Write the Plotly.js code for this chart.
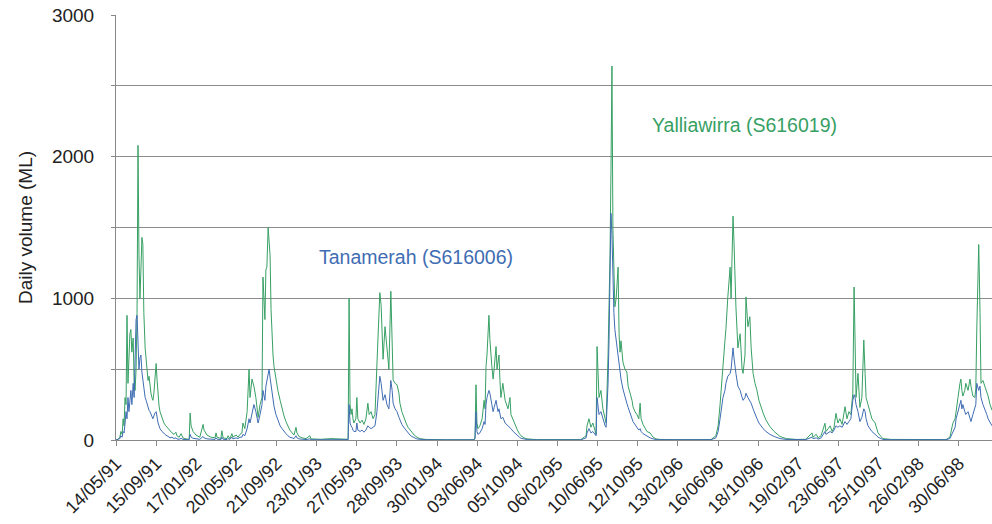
<!DOCTYPE html>
<html><head><meta charset="utf-8">
<script src="https://cdn.plot.ly/plotly-3.0.1.min.js"></script>
<style>html,body{margin:0;padding:0;background:#fff}#chart{width:992px;height:524px}</style>
</head><body><div id="chart"></div>
<script>
// Day offsets counted from the first tick date (14/05/1991)
const startDate = '1991-05-14';
const endDate = '1998-10-10';

const days = [
  0,6,12,15,19,22,25,28,31,34,37,40,43,46,49,53,56,59,62,65,68,71,74,77,80,83,86,90,93,96,99,102,105,108,111,114,117,120,124,127,130,133,136,142,148,154,161,167,173,179,185,188,195,201,207,216,226,229,232,238,247,259,269,272,281,293,306,309,312,324,327,331,343,346,352,358,361,371,377,383,
  389,392,398,405,411,414,420,426,432,439,445,451,454,457,460,463,466,470,473,476,479,482,485,488,494,500,507,513,519,525,531,537,544,550,556,559,565,575,587,599,602,633,664,
  710,717,720,723,726,729,732,735,741,744,747,754,760,766,772,778,782,788,794,800,806,809,815,819,825,831,837,843,849,853,856,862,868,874,877,883,889,896,902,908,914,921,927,933,942,958,1019,1097,
  1106,1109,1112,1115,1118,1124,1131,1137,1140,1143,1146,1152,1155,1161,1165,1168,1174,1177,1180,1183,1186,1189,1195,1202,1211,1217,1220,1227,1233,1240,1246,1251,1261,1270,1298,1390,
  1436,1452,1455,1461,1467,1473,1479,1483,1486,1489,1492,1498,1504,1511,1514,1520,1523,1526,1529,1532,1535,1538,1541,1545,1548,1551,1554,1557,1560,1566,1572,1578,1582,1588,1594,1597,1603,1609,1615,1619,1622,1628,1634,1640,1650,1659,1668,1680,1730,1822,
  1838,1853,1860,1866,1872,1875,1881,1884,1890,1897,1900,1903,1906,1909,1912,1915,1921,1928,1934,1937,1943,1946,1952,1958,1962,1968,1974,1980,1986,1992,1999,2008,2020,2033,2051,2070,2101,2131,2150,2153,2163,2169,
  2178,2190,2193,2200,2206,2212,2218,2224,2230,2236,2243,2252,2258,2264,2270,2276,2280,2283,2286,2292,2298,2304,2310,2314,2317,2323,2329,2335,2345,2354,2363,2369,2394,2471,2532,
  2564,2576,2585,2592,2595,2601,2607,2610,2613,2616,2622,2625,2632,2638,2641,2647,2653,2656,2659,2665,2669,2672,2678,2684,2690,2694,2700,2706
];

const yalliawirra = [
  0,5,20,60,40,150,100,300,250,880,400,600,750,780,620,720,400,350,500,900,2080,1300,1000,1200,1430,1380,900,650,560,480,420,450,380,330,300,280,330,420,540,420,300,240,200,160,120,100,80,60,50,40,55,30,20,45,15,8,5,190,100,60,35,20,110,70,35,20,15,50,20,10,65,15,10,30,10,45,20,35,20,40,
  50,120,80,200,500,300,430,380,300,160,250,300,1150,1000,850,1200,1220,1500,1390,1300,920,700,600,520,420,350,280,220,170,130,100,70,50,35,90,50,25,15,10,30,8,5,10,
  2,5,1000,250,180,220,150,120,150,300,150,120,140,110,150,260,180,200,150,180,530,700,1040,950,570,800,650,500,1050,690,424,400,390,330,260,200,160,120,90,70,50,35,25,15,8,4,2,2,
  2,20,390,120,80,100,150,280,220,520,600,880,710,520,430,500,660,500,580,600,420,300,400,280,220,300,180,140,100,70,45,30,15,8,3,2,
  3,30,100,150,90,120,60,40,660,400,300,350,220,150,120,600,900,1300,1900,2640,1500,1150,940,1000,1100,1220,750,620,700,550,500,480,380,330,280,235,200,180,150,260,150,110,80,60,50,20,8,4,2,2,
  3,30,100,250,400,520,700,780,1010,1220,1000,1400,1580,1400,1100,940,650,750,500,470,600,1010,800,870,650,470,400,350,280,230,190,140,95,60,25,10,4,5,50,20,40,15,
  30,118,60,80,100,60,90,188,120,150,110,235,150,200,180,330,1080,706,300,470,230,300,706,470,300,250,190,150,120,50,25,10,4,3,3,
  3,20,118,150,210,300,400,430,350,310,350,400,350,430,380,310,300,360,777,1380,900,400,420,380,330,310,250,210
];

const tanamerah = [
  0,3,10,30,20,60,50,120,200,150,300,200,280,350,250,400,300,600,850,880,650,500,580,600,480,420,350,300,280,250,220,210,200,180,160,150,170,190,200,150,120,100,80,60,45,35,25,15,20,10,15,8,5,12,4,2,2,40,20,12,8,5,25,15,8,5,4,15,6,3,20,5,3,10,4,20,8,15,10,20,
  20,40,30,80,150,120,200,250,200,120,180,250,350,300,280,380,420,480,500,440,380,320,280,240,180,140,100,80,60,45,30,20,15,10,30,15,8,5,3,8,2,2,3,
  1,3,250,120,100,90,70,60,60,120,70,60,70,55,70,100,90,80,90,100,200,300,450,400,280,320,250,220,420,350,260,220,200,160,140,110,90,70,50,35,25,15,10,6,3,2,1,1,
  1,10,200,60,40,50,80,130,110,250,300,350,330,250,200,230,280,240,200,220,180,150,160,120,100,90,80,60,45,30,20,12,6,3,1,1,
  1,15,50,80,50,60,40,30,300,250,180,200,150,100,90,400,700,1200,1600,1450,1100,900,780,700,650,620,520,460,430,360,300,260,230,180,150,130,110,90,70,80,60,45,35,25,15,8,3,2,1,1,
  2,15,60,150,250,300,350,400,450,470,500,600,650,580,500,470,380,350,300,280,300,330,300,280,260,220,180,150,120,100,80,60,40,25,10,4,2,3,20,10,15,6,
  15,60,40,50,60,50,70,100,90,100,90,130,110,130,150,280,320,300,250,200,130,160,220,200,150,100,80,60,40,20,10,4,2,1,1,
  2,10,60,90,150,200,250,280,220,250,200,180,200,150,130,180,220,250,400,350,380,300,250,220,180,150,120,100
];

const tickLabels = ['14/05/91','15/09/91','17/01/92','20/05/92','21/09/92','23/01/93','27/05/93','28/09/93','30/01/94','03/06/94','05/10/94','06/02/95','10/06/95','12/10/95','13/02/96','16/06/96','18/10/96','19/02/97','23/06/97','25/10/97','26/02/98','30/06/98'];
const yTickVals = [0,500,1000,1500,2000,2500,3000];
const yTickText = ['0','','1000','','2000','','3000'];
const seriesNames = ['Yalliawirra (S616019)','Tanamerah (S616006)'];
const yTitle = 'Daily volume (ML)';

const GREEN = '#37a064';
const BLUE = '#3f6db3';

const t0 = Date.parse(startDate + 'T00:00:00Z');
function isoDay(d){ return new Date(t0 + d*86400000).toISOString().slice(0,10); }
const xDates = days.map(isoDay);
const tickVals = tickLabels.map(s => { const p = s.split('/'); return '19' + p[2] + '-' + p[1] + '-' + p[0]; });

const traces = [
  {x: xDates, y: yalliawirra, type: 'scatter', mode: 'lines', name: seriesNames[0], line: {color: GREEN, width: 1}, hoverinfo: 'x+y'},
  {x: xDates, y: tanamerah, type: 'scatter', mode: 'lines', name: seriesNames[1], line: {color: BLUE, width: 1}, hoverinfo: 'x+y'}
];

const FONT = 'Liberation Sans, Arial, Helvetica, sans-serif';
const layout = {
  width: 992, height: 524,
  margin: {l: 116, r: 0, t: 15, b: 84},
  paper_bgcolor: '#fff', plot_bgcolor: '#fff',
  showlegend: false,
  font: {family: FONT, size: 18, color: '#222'},
  xaxis: {
    type: 'date', range: [startDate, endDate],
    tickmode: 'array', tickvals: tickVals, ticktext: tickLabels,
    tickangle: -45, tickfont: {size: 18, color: '#222'},
    ticks: 'outside', ticklen: 5, tickcolor: '#888', tickwidth: 1,
    showgrid: false, showline: true, linecolor: '#888', linewidth: 1,
    zeroline: false, automargin: false
  },
  yaxis: {
    range: [0, 3000], tickmode: 'array', tickvals: yTickVals, ticktext: yTickText,
    tickfont: {size: 19, color: '#222'},
    ticks: 'outside', ticklen: 4, tickcolor: '#888', tickwidth: 1,
    ticklabelstandoff: 13,
    showgrid: true, gridcolor: '#8c8c8c', gridwidth: 1,
    showline: true, linecolor: '#888', linewidth: 1, zeroline: false,
    title: {text: yTitle, font: {size: 19, color: '#222'}, standoff: 14},
    automargin: false
  },
  annotations: [
    {xref: 'paper', yref: 'paper', x: 0.718, y: 0.741, text: seriesNames[0], showarrow: false, font: {size: 19.5, color: GREEN}, xanchor: 'center', yanchor: 'middle'},
    {xref: 'paper', yref: 'paper', x: 0.3425, y: 0.431, text: seriesNames[1], showarrow: false, font: {size: 19.5, color: BLUE}, xanchor: 'center', yanchor: 'middle'}
  ]
};

Plotly.newPlot('chart', traces, layout, {displayModeBar: false, staticPlot: true});
</script>
</body></html>
